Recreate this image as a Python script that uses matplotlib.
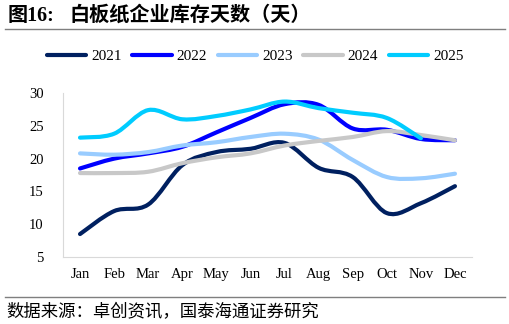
import matplotlib
matplotlib.use('Agg')
from matplotlib import pyplot as plt
from matplotlib.path import Path
from matplotlib.patches import PathPatch
from matplotlib.lines import Line2D
import numpy as np

plt.rcParams['font.family'] = ['Liberation Serif', 'Noto Sans CJK SC']

months = ['Jan', 'Feb', 'Mar', 'Apr', 'May', 'Jun', 'Jul', 'Aug', 'Sep', 'Oct', 'Nov', 'Dec']
years = ['2021', '2022', '2023', '2024', '2025']
days_2021 = [8.5, 12.0, 13.0, 19.0, 21.0, 21.5, 22.4, 18.6, 17.2, 11.7, 13.2, 15.8]
days_2022 = [18.5, 20.0, 20.8, 21.8, 24.0, 26.2, 28.3, 28.2, 24.6, 24.4, 23.0, 22.8]
days_2023 = [20.8, 20.6, 21.0, 22.0, 22.5, 23.3, 23.8, 22.9, 19.8, 17.2, 17.0, 17.7]
days_2024 = [17.8, 17.8, 18.0, 19.3, 20.2, 20.8, 22.0, 22.7, 23.3, 24.2, 23.6, 22.8]
days_2025 = [23.2, 23.8, 27.4, 26.0, 26.5, 27.5, 28.7, 27.7, 27.0, 26.2, 23.1]
series = [days_2021, days_2022, days_2023, days_2024, days_2025]
colors = ['#002060', '#0000FF', '#99CCFF', '#C8C8C8', '#00CCFF']


def smooth_path(xs, ys):
    # Bezier segments through every point, like an Excel smoothed line
    pts = np.column_stack([xs, ys]).astype(float)
    verts = [pts[0]]
    codes = [Path.MOVETO]
    n = len(pts)
    for i in range(n - 1):
        p0 = pts[i - 1] if i > 0 else pts[i]
        p1, p2 = pts[i], pts[i + 1]
        p3 = pts[i + 2] if i + 2 < n else pts[i + 1]
        c1 = p1 + (p2 - p0) / 6.0
        c2 = p2 - (p3 - p1) / 6.0
        verts += [c1, c2, p2]
        codes += [Path.CURVE4] * 3
    return Path(verts, codes)


fig = plt.figure(figsize=(5.1, 3.24), dpi=100)
ax = fig.add_axes([0.1235, 0.2068, 0.802, 0.506])

for vals, col in zip(series, colors):
    x = np.arange(len(vals))
    ax.add_patch(PathPatch(smooth_path(x, vals), facecolor='none', edgecolor=col,
                           lw=3.0, capstyle='round', joinstyle='round'))

ax.set_xlim(-0.5, 11.5)
ax.set_ylim(5, 30)
ax.set_yticks(range(5, 31, 5))
ax.set_xticks(range(12))
ax.set_xticklabels(months)
ax.tick_params(length=0, labelsize=10.5, colors='black', pad=8)
ax.tick_params(axis='y', pad=14)
for s in ['top', 'right']:
    ax.spines[s].set_visible(False)
for s in ['left', 'bottom']:
    ax.spines[s].set_color('#D9D9D9')
    ax.spines[s].set_linewidth(0.8)

handles = [Line2D([], [], color=c, lw=3.0, solid_capstyle='round') for c in colors]
fig.legend(handles, years, loc='center', bbox_to_anchor=(0.5, 0.827), ncol=5, frameon=False,
           fontsize=11, handlelength=2.6, handletextpad=0.3, columnspacing=0.7)

fig.text(0.014, 0.935, '图16:', fontsize=14.5, fontweight='bold', va='baseline',
         family=['Liberation Serif', 'Noto Sans CJK SC'])
fig.text(0.137, 0.935, '白板纸企业库存天数（天）', fontsize=14.5, fontweight='bold', va='baseline',
         family=['Noto Sans CJK SC'])
fig.add_artist(Line2D([0.01, 0.99], [0.91, 0.91], color='#7F7F7F', lw=1.0))
fig.add_artist(Line2D([0.01, 0.99], [0.083, 0.083], color='#7F7F7F', lw=1.0))
fig.text(0.012, 0.02, '数据来源：卓创资讯，国泰海通证券研究', fontsize=12.5, va='baseline',
         family=['Noto Sans CJK SC'])

fig.savefig('out.png', dpi=100)
